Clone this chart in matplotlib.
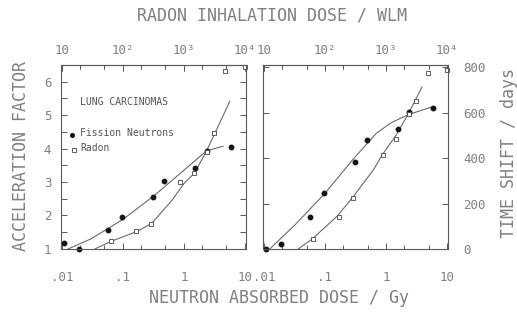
import numpy as np
import matplotlib
matplotlib.use("Agg")
import matplotlib.pyplot as plt
from matplotlib.ticker import FixedLocator, NullFormatter, FixedFormatter, LogLocator

plt.rcParams['font.family'] = ['DejaVu Sans Mono', 'DejaVu Sans']

# ---- data (neutron absorbed dose in Gy; radon plotted on equivalent scale) ----
neutron_dose = [0.011, 0.019, 0.057, 0.097, 0.315, 0.48, 1.55, 2.4, 6.0]
neutron_af = [1.17, 1.0, 1.57, 1.95, 2.55, 3.04, 3.43, 3.93, 4.05]
neutron_shift = [0, 22, 140, 245, 385, 480, 530, 605, 622]

radon_dose = [0.063, 0.167, 0.29, 0.88, 1.48, 2.4, 3.1, 4.8, 10.0]
radon_af = [1.23, 1.55, 1.75, 3.0, 3.27, 3.9, 4.46, 6.32, 6.45]
radon_shift = [44, 142, 225, 415, 483, 595, 650, 775, 790]

# fitted curves
fitN_af_x = [0.0127, 0.03, 0.1, 0.33, 1.0, 2.35, 3.3, 4.4]
fitN_af_y = [1.0, 1.3, 1.88, 2.6, 3.35, 3.93, 4.01, 4.07]
fitR_af_x = [0.035, 0.065, 0.17, 0.3, 0.65, 1.0, 1.5, 2.35, 3.64, 5.66]
fitR_af_y = [1.0, 1.23, 1.52, 1.77, 2.47, 2.95, 3.27, 3.92, 4.66, 5.41]
fitN_ts_x = [0.0125, 0.032, 0.1, 0.3, 0.7, 1.2, 2.34, 5.6]
fitN_ts_y = [0, 105, 245, 400, 510, 555, 592, 625]
fitR_ts_x = [0.0365, 0.062, 0.16, 0.3, 0.63, 0.87, 1.46, 2.34, 3.9]
fitR_ts_y = [0, 44, 145, 235, 350, 415, 500, 596, 713]

x_ticks = [0.01, 0.1, 1, 10]
x_ticklabels = ['.01', '.1', '1', '10']
top_ticks = [10, 100, 1000, 10000]
top_ticklabels = ['10', '10²', '10³', '10⁴']
af_ticks = [1, 2, 3, 4, 5, 6]
ts_ticks = [0, 200, 400, 600, 800]

TXT = '#808080'
SPN = '#5a5a5a'
CRV = '#6a6a6a'
MK = '#151515'

fig = plt.figure(figsize=(5.17, 3.22), dpi=100)
ax1 = fig.add_axes([0.118, 0.227, 0.358, 0.571])
ax2 = fig.add_axes([0.509, 0.227, 0.358, 0.571])

for ax in (ax1, ax2):
    ax.set_xscale('log')
    ax.set_xlim(0.0097, 10.5)
    for s in ax.spines.values():
        s.set_color(SPN)
        s.set_linewidth(0.8)
    ax.xaxis.set_major_locator(FixedLocator(x_ticks))
    ax.xaxis.set_major_formatter(FixedFormatter(x_ticklabels))
    ax.xaxis.set_minor_locator(LogLocator(base=10, subs=(2, 5)))
    ax.xaxis.set_minor_formatter(NullFormatter())
    ax.tick_params(axis='both', which='both', direction='in', colors=SPN,
                   labelcolor=TXT, labelsize=9, width=0.7)
    ax.tick_params(axis='both', which='major', length=4)
    ax.tick_params(axis='both', which='minor', length=3)
    ax.tick_params(axis='x', which='both', bottom=True, top=True, pad=16)
    sec = ax.secondary_xaxis('top', functions=(lambda v: v * 1000, lambda v: v / 1000))
    sec.xaxis.set_major_locator(FixedLocator(top_ticks))
    sec.xaxis.set_major_formatter(FixedFormatter(top_ticklabels))
    sec.xaxis.set_minor_locator(LogLocator(base=10, subs=(2, 5)))
    sec.xaxis.set_minor_formatter(NullFormatter())
    sec.tick_params(axis='x', which='both', direction='in', colors=SPN,
                    labelcolor=TXT, labelsize=9, width=0.7, pad=6)
    sec.tick_params(axis='x', which='major', length=4)
    sec.tick_params(axis='x', which='minor', length=3)
    sec.spines['top'].set_color(SPN)
    sec.spines['top'].set_linewidth(0.8)

# left panel: acceleration factor
ax1.set_ylim(1, 6.5)
ax1.yaxis.set_major_locator(FixedLocator(af_ticks))
ax1.yaxis.set_minor_locator(FixedLocator([1.5, 2.5, 3.5, 4.5, 5.5, 6.5]))
ax1.tick_params(axis='y', which='both', left=True, right=True, length=4, pad=7)
ax1.plot(fitN_af_x, fitN_af_y, color=CRV, lw=0.8)
ax1.plot(fitR_af_x, fitR_af_y, color=CRV, lw=0.8)
ax1.plot(neutron_dose, neutron_af, 'o', ms=3.2, color=MK, clip_on=False)
ax1.plot(radon_dose, radon_af, 's', ms=2.8, mfc='white', mec='#444444', mew=0.6, clip_on=False)

ax1.text(0.105, 0.80, 'LUNG CARCINOMAS', transform=ax1.transAxes, fontsize=7,
         color='#555555', va='center', ha='left')
ax1.plot([0.06], [0.62], 'o', ms=2.6, color=MK, transform=ax1.transAxes)
ax1.text(0.105, 0.63, 'Fission Neutrons', transform=ax1.transAxes, fontsize=7,
         color='#555555', va='center', ha='left')
ax1.plot([0.07], [0.54], 's', ms=2.4, mfc='white', mec='#444444', mew=0.6,
         transform=ax1.transAxes)
ax1.text(0.105, 0.55, 'Radon', transform=ax1.transAxes, fontsize=7,
         color='#555555', va='center', ha='left')

# right panel: time shift
ax2.set_ylim(0, 810)
ax2.yaxis.set_major_locator(FixedLocator(ts_ticks))
ax2.yaxis.tick_right()
ax2.tick_params(axis='y', which='both', left=True, right=True, labelleft=False,
                labelright=True, length=4, pad=11)
ax2.plot(fitN_ts_x, fitN_ts_y, color=CRV, lw=0.8)
ax2.plot(fitR_ts_x, fitR_ts_y, color=CRV, lw=0.8)
ax2.plot(neutron_dose, neutron_shift, 'o', ms=3.2, color=MK, clip_on=False)
ax2.plot(radon_dose, radon_shift, 's', ms=2.8, mfc='white', mec='#444444', mew=0.6, clip_on=False)

fig.text(0.54, 0.075, 'NEUTRON ABSORBED DOSE / Gy', fontsize=12, color=TXT,
         ha='center', va='center')
fig.text(0.526, 0.953, 'RADON INHALATION DOSE / WLM', fontsize=12, color=TXT,
         ha='center', va='center')
fig.text(0.041, 0.516, 'ACCELERATION FACTOR', fontsize=12, color=TXT,
         ha='center', va='center', rotation=90)
fig.text(0.984, 0.525, 'TIME SHIFT / days', fontsize=12, color=TXT,
         ha='center', va='center', rotation=90)

fig.savefig('out.png', dpi=100)
